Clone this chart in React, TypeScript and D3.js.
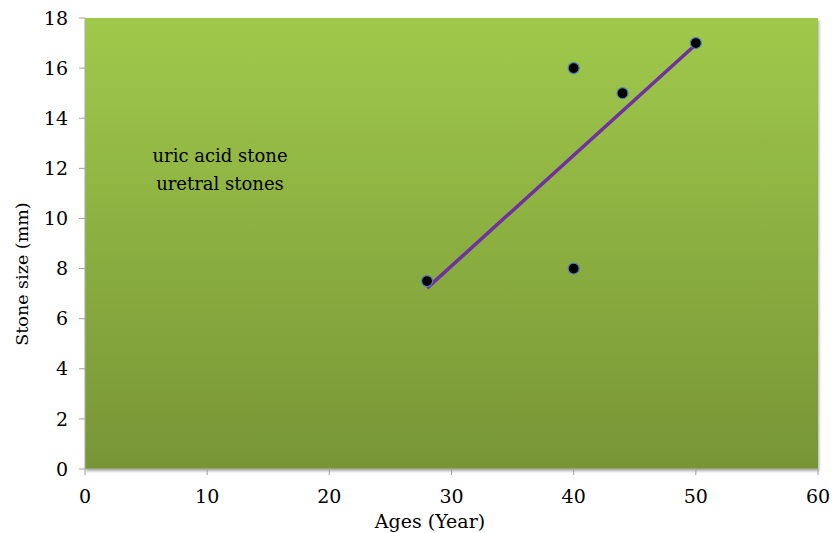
import React from "react";
import * as d3 from "d3";

const ages = [28, 40, 44, 40, 50];
const sizes = [7.5, 16, 15, 8, 17];
const xTicks = [0, 10, 20, 30, 40, 50, 60];
const yTicks = [0, 2, 4, 6, 8, 10, 12, 14, 16, 18];
const labelLines = ["uric acid stone", "uretral stones"];

export default function App() {
  const W = 834, H = 533;
  const left = 85, right = 818, top = 18, bottom = 469;
  const x = d3.scaleLinear().domain([0, 60]).range([left, right]);
  const y = d3.scaleLinear().domain([0, 18]).range([bottom, top]);

  const mx = d3.mean(ages)!, my = d3.mean(sizes)!;
  let sxx = 0, sxy = 0;
  ages.forEach((a, i) => { sxx += (a - mx) ** 2; sxy += (a - mx) * (sizes[i] - my); });
  const slope = sxy / sxx, icpt = my - slope * mx;
  const x0 = d3.min(ages)!, x1 = d3.max(ages)!;
  const line = d3.line<[number, number]>().x(d => x(d[0])).y(d => y(d[1]));
  const trend = line([[x0, icpt + slope * x0], [x1, icpt + slope * x1]]);

  const font = "'DejaVu Serif', serif";
  return (
    <svg width={W} height={H} style={{ position: "absolute", left: 0, top: 0, fontFamily: font }}>
      <defs>
        <linearGradient id="bg" x1="0" y1="0" x2="0" y2="1">
          <stop offset="0%" stopColor="#a0c94b" />
          <stop offset="100%" stopColor="#779536" />
        </linearGradient>
        <filter id="sh" x="-5%" y="-5%" width="110%" height="115%">
          <feDropShadow dx="1" dy="2" stdDeviation="1.5" floodColor="#000" floodOpacity="0.35" />
        </filter>
      </defs>
      <rect x={0} y={0} width={W} height={H} fill="#fff" />
      <rect x={left} y={top} width={right - left} height={bottom - top} fill="url(#bg)" filter="url(#sh)" />
      <line x1={left} x2={left} y1={top} y2={bottom} stroke="#b0b0b0" strokeWidth={1} />
      <line x1={left} x2={right} y1={bottom} y2={bottom} stroke="#b0b0b0" strokeWidth={1} />
      {yTicks.map(t => (
        <g key={"y" + t}>
          <line x1={left - 6} x2={left} y1={y(t)} y2={y(t)} stroke="#a0a0a0" />
          <text x={left - 17} y={y(t)} dy="0.35em" textAnchor="end" fontSize={19} fill="#000">{t}</text>
        </g>
      ))}
      {xTicks.map(t => (
        <g key={"x" + t}>
          <line x1={x(t)} x2={x(t)} y1={bottom} y2={bottom + 6} stroke="#a0a0a0" />
          <text x={x(t)} y={bottom + 34} textAnchor="middle" fontSize={19} fill="#000">{t}</text>
        </g>
      ))}
      <path d={trend ?? ""} stroke="#7030a0" strokeWidth={3.5} fill="none" />
      {ages.map((a, i) => (
        <circle key={i} cx={x(a)} cy={y(sizes[i])} r={5.5} fill="#000" stroke="#4f81bd" strokeWidth={1.2} />
      ))}
      {labelLines.map((l, i) => (
        <text key={l} x={220} y={162 + i * 28} textAnchor="middle" fontSize={18} fill="#000">{l}</text>
      ))}
      <text x={430} y={528} textAnchor="middle" fontSize={19} fill="#000">Ages (Year)</text>
      <text transform={`translate(28, 274) rotate(-90)`} textAnchor="middle" fontSize={17.5} fill="#000">Stone size (mm)</text>
    </svg>
  );
}
